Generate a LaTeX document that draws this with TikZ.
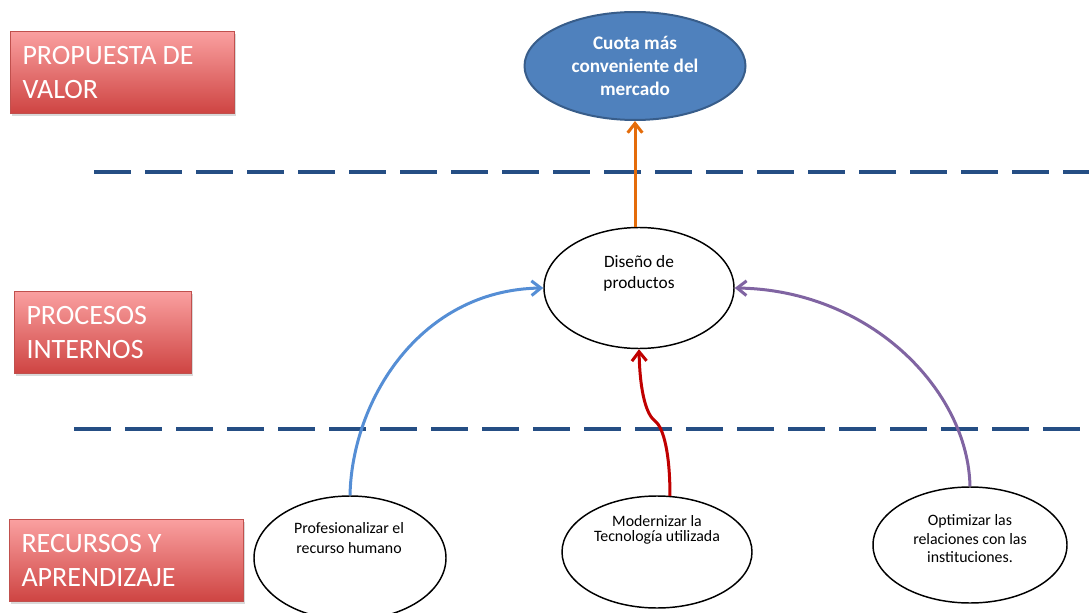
\documentclass[tikz,border=0pt]{standalone}
\usepackage{fontspec}
\setmainfont{Carlito}
\usetikzlibrary{shapes.geometric,arrows.meta,shadows}
\definecolor{boxtop}{RGB}{250,160,160}
\definecolor{boxbot}{RGB}{206,68,66}
\definecolor{boxedge}{RGB}{192,80,77}
\definecolor{lineblue}{HTML}{254E84}
\definecolor{cuotafill}{HTML}{4F81BD}
\definecolor{cuotaedge}{HTML}{385D8A}
\definecolor{arrblue}{HTML}{558ED5}
\definecolor{arrred}{HTML}{C00000}
\definecolor{arrorange}{HTML}{E46C0A}
\definecolor{arrpurple}{HTML}{8064A2}
\begin{document}
\begin{tikzpicture}[x=0.75pt,y=-0.75pt,
  lbox/.style={draw=boxedge, line width=0.75pt, top color=boxtop, bottom color=boxbot,
    text=white, font=\fontsize{21}{25.5}\selectfont, align=left, anchor=north west,
    inner xsep=9pt, inner ysep=0pt, minimum height=61.5pt,
    drop shadow={shadow xshift=1pt, shadow yshift=-2pt, opacity=0.3}},
  ell/.style={ellipse, draw=black, line width=1.1pt, inner sep=0pt},
  txt/.style={align=center, font=\fontsize{11.9}{14.6}\selectfont, text=black, inner sep=0pt},
  sep/.style={draw=lineblue, line width=3pt, dash pattern=on 27.75pt off 10.5pt},
  conn/.style={line width=2.25pt, -{Straight Barb[length=7pt,width=11pt]}}
]
\useasboundingbox (0,0) rectangle (1089,613);

% left label boxes
\node[lbox, text width=150pt] (pv) at (10,31) {PROPUESTA\hspace{-0.12em} DE\\VALOR};
\node[lbox, text width=114.75pt] (pi) at (14,291) {PROCESOS\\INTERNOS};
\node[lbox, text width=157.5pt] (ra) at (9,519) {RECURSOS\hspace{-0.12em} Y\\APRENDIZAJE};

% dashed separators
\coordinate (s1a) at (94,172);
\coordinate (s1b) at (1089,172);
\coordinate (s2a) at (74,429);
\coordinate (s2b) at (1089,429);
\draw[sep] (s1a) -- (s1b);
\draw[sep] (s2a) -- (s2b);

% top ellipse
\node[ellipse, draw=cuotaedge, fill=cuotafill, line width=1.5pt, inner sep=0pt,
  minimum width=165.75pt, minimum height=81pt, text=white, align=center,
  font=\bfseries\fontsize{14.4}{17.25}\selectfont] (cuota) at (635,66)
  {Cuota más\\conveniente del\\mercado};

% middle ellipse
\node[ell, minimum width=142.5pt, minimum height=90.75pt] (dis) at (639,288) {};
\node[txt, font=\fontsize{13}{15.75}\selectfont] (distxt) at (639,273) {Diseño de\\productos};

% bottom ellipses
\node[ell, minimum width=144pt, minimum height=93pt] (prof) at (350,558) {};
\node[txt] (proftxt) at (349,538) {Profesionalizar el\\recurso humano};

\node[ell, minimum width=142.5pt, minimum height=84pt] (mod) at (657,552) {};
\node[txt, font=\fontsize{11.9}{10.8}\selectfont] (modtxt) at (657,530) {Modernizar la\\Tecnología utilizada};

\node[ell, minimum width=145.5pt, minimum height=87pt] (opt) at (970,545) {};
\node[txt, font=\fontsize{11.9}{13.9}\selectfont] (opttxt) at (970,539) {Optimizar las\\relaciones con las\\instituciones.};

% connectors
\draw[conn, draw=arrorange] (cuota.south |- dis.north) -- (cuota.south);
\draw[conn, draw=arrblue] (prof.north) .. controls (352,400) and (420,290) .. (dis.west);
\draw[conn, draw=arrpurple] (opt.north) .. controls (968,390) and (870,290) .. (dis.east);
\coordinate (kink) at (655,421);
\draw[conn, draw=arrred] (mod.77) .. controls (670,455) and (664,428) .. (kink)
  .. controls (647,415) and (640,395) .. (dis.south);
\end{tikzpicture}
\end{document}
